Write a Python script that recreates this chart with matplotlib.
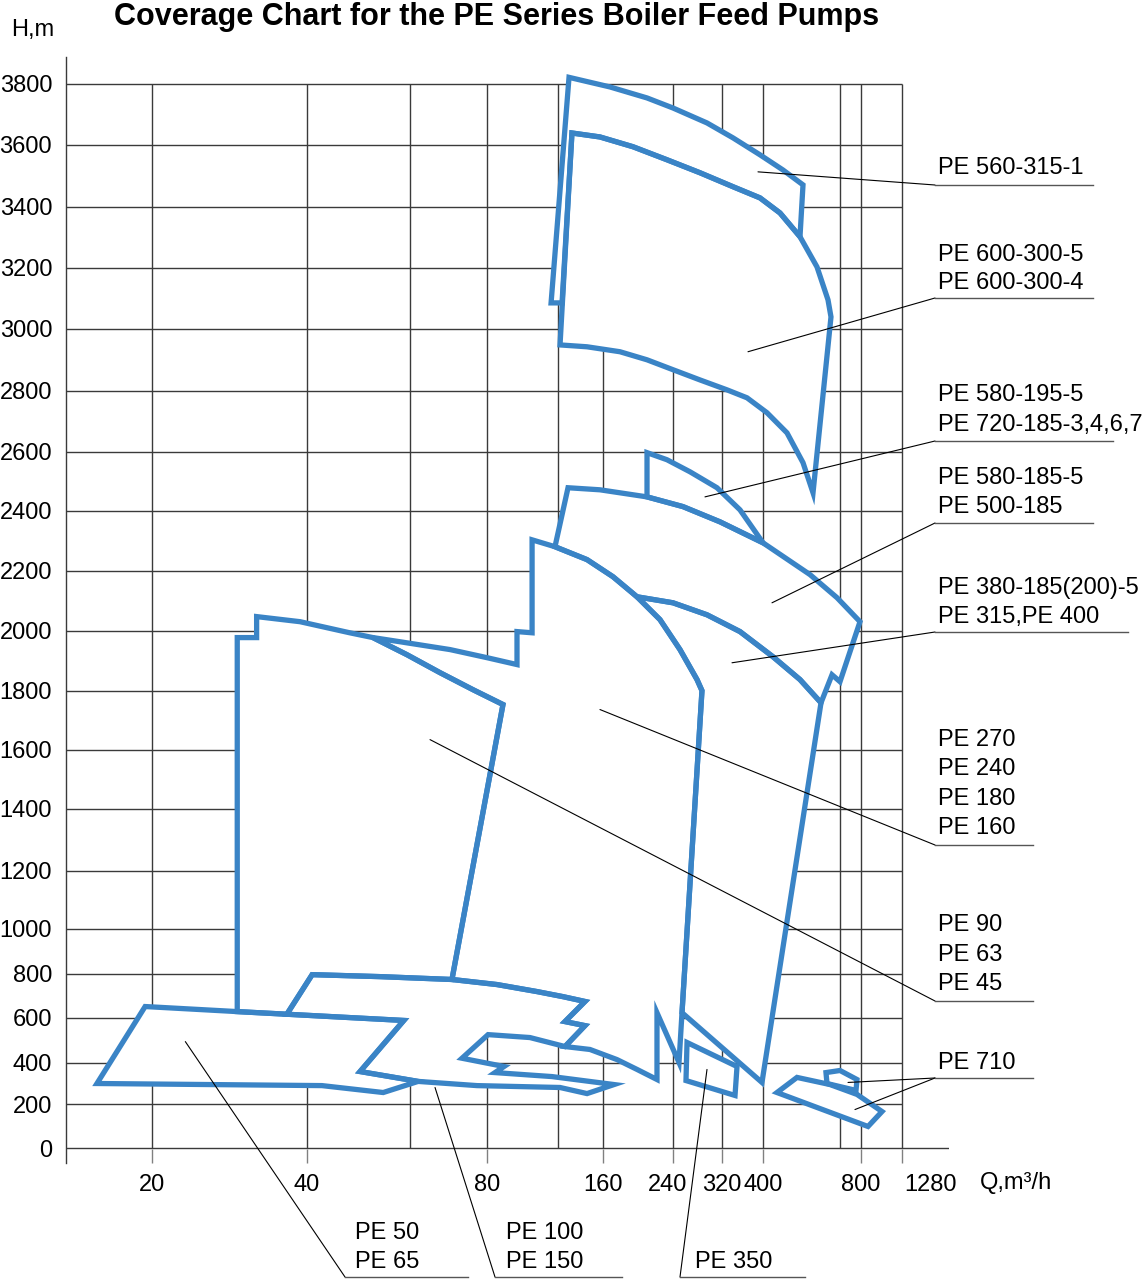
import numpy as np
import matplotlib
matplotlib.use("Agg")
import matplotlib.pyplot as plt
from matplotlib.patches import Polygon
from matplotlib.lines import Line2D
from matplotlib.transforms import ScaledTranslation

plt.rcParams['font.family'] = ['Liberation Sans', 'DejaVu Sans']

# axis ticks (Q in m3/h, H in m)
x_labels = [20, 40, 80, 160, 240, 320, 400, 800, 1280]
x_grid = [20, 40, 60, 80, 120, 160, 240, 320, 400, 640, 800, 1280]
y_ticks = [0, 200, 400, 600, 800, 1000, 1200, 1400, 1600, 1800, 2000, 2200,
           2400, 2600, 2800, 3000, 3200, 3400, 3600, 3800]

# pump coverage outlines, (Q, H) points
pe560_edge = [(123.6, 3085), (116.1, 3085), (129.8, 3820), (168, 3790), (210.3, 3754),
              (240, 3721), (295.5, 3672), (341.5, 3623), (394.1, 3568), (462.3, 3519),
              (524.7, 3471), (515.3, 3302)]
pe600_top = [(132.4, 3639), (157.3, 3626), (194.3, 3594), (233.1, 3552), (284.1, 3510),
             (341.5, 3465), (394.1, 3429), (453, 3380), (515.3, 3302), (568.3, 3203),
             (602.6, 3095), (611.9, 3039)]
pe600_low = [(555.9, 2461), (524.7, 2563), (474.8, 2662), (412.5, 2728), (368.8, 2777),
             (329.8, 2803), (284.1, 2835), (240, 2868), (210.3, 2900), (179.4, 2926),
             (145.8, 2942), (121.8, 2948)]
pe580_195_top = [(210.3, 2597), (233.1, 2573), (267.8, 2532), (311.8, 2478),
                 (355.1, 2403), (400, 2293)]
pe580_185_top = [(128.9, 2478), (157.3, 2471), (210.3, 2447), (256.3, 2414), (316.7, 2363),
                 (400, 2293), (546.5, 2187), (630.7, 2110), (792.4, 2030)]
pe580_185_right = [(640, 1830), (615.1, 1853), (580.8, 1759)]
pe380_top = [(198.9, 2113), (240, 2093), (295.5, 2053), (355.1, 1997), (431.2, 1913),
             (515.3, 1837), (580.8, 1759)]
pe380_low = [(398, 305), (254.7, 622)]
pe270_top = [(105.4, 2303), (118.3, 2280), (145.8, 2237), (171.4, 2180), (198.9, 2113),
             (225.1, 2037), (251.4, 1937), (279.2, 1837), (287.3, 1800)]
pe270_right = [(254.7, 622), (249.8, 400), (221.7, 622), (221.7, 319)]
pe270_bottom = [(198.9, 367), (176, 413), (148.4, 458), (126.2, 471)]
pe270_notch = [(58.1, 1963), (70.4, 1937), (80, 1910), (96.9, 1887), (96.9, 1997), (105.4, 1993)]
pe90_top = [(31, 1977), (33.5, 1977), (33.5, 2047), (39.1, 2030), (48.3, 1993), (52.8, 1977),
            (59.4, 1920), (67.8, 1860), (76.4, 1803), (89, 1753)]
b_top = [(41, 795), (54.2, 786), (70.9, 773), (85.6, 750), (108.2, 718), (124.4, 695), (144, 673)]
b_notch = [(126.2, 582), (144, 564), (126.2, 471)]
b_inner = [(104.2, 511), (80.6, 524), (73.5, 419), (89.6, 381), (84.5, 352), (116.6, 333),
           (172.6, 295), (145.8, 252), (121.8, 281), (77.4, 290), (62.1, 310), (50.3, 357),
           (58.8, 587)]
pe50 = [(13.6, 300), (19.2, 650), (31, 627), (37.4, 615), (58.8, 587), (50.3, 357),
        (62.1, 310), (54.8, 257), (42.9, 290)]
pe350 = [(262.9, 489), (349.3, 381), (345.4, 243), (261.2, 314)]
pe710_big = [(443.6, 257), (506, 329), (608.9, 295), (769.5, 248), (1046, 168), (882, 100)]
pe710_small = [(599.5, 300), (596.3, 352), (640, 362), (769.5, 319), (762, 267)]

# labels on the right and their anchor points
right_text = [["PE 560-315-1"],
              ["PE 600-300-5", "PE 600-300-4"],
              ["PE 580-195-5", "PE 720-185-3,4,6,7"],
              ["PE 580-185-5", "PE 500-185"],
              ["PE 380-185(200)-5", "PE 315,PE 400"],
              ["PE 270", "PE 240", "PE 180", "PE 160"],
              ["PE 90", "PE 63", "PE 45"],
              ["PE 710"]]
right_anchor = [[(390.2, 3513)], [(370.7, 2926)], [(292.2, 2447)], [(428, 2093)],
                [(339.5, 1893)], [(157.3, 1736)], [(65.2, 1634)], [(701, 305), (754, 177)]]
bottom_text = [["PE 50", "PE 65"], ["PE 100", "PE 150"], ["PE 350"]]
bottom_anchor = [(24.3, 493), (66.5, 281), (295.5, 367)]

# piecewise axis scales of the original drawing
Q_KNOT = [5, 10, 20, 40, 60, 80, 120, 160, 240, 320, 400, 640, 800, 1280, 1700, 3000]
Q_PIX = [23, 66, 152, 307, 410, 487, 558, 603, 673, 722, 763, 840, 861, 902, 949, 1100]
H_KNOT = [-1000] + y_ticks + [5000]
H_PIX = -np.array([1376, 1149, 1105, 1063, 1018, 974, 929, 871, 809, 750, 691, 631, 571,
                   511, 452, 391, 329, 268, 207, 145, 84, -310], dtype=float)

BLUE = '#3a84c6'
GRID = '#3a3a3a'
FS = 17

fig = plt.figure(figsize=(11.44, 12.8), dpi=100)
ax = fig.add_axes([66 / 1144, 117 / 1280, 883 / 1144, 1106 / 1280])
ax.set_xscale('function', functions=(lambda q: np.interp(q, Q_KNOT, Q_PIX),
                                     lambda p: np.interp(p, Q_PIX, Q_KNOT)))
ax.set_yscale('function', functions=(lambda h: np.interp(h, H_KNOT, H_PIX),
                                     lambda p: np.interp(p, H_PIX, H_KNOT)))
ax.set_xlim(10, 1700)
ax.set_ylim(-64, 3882)

# grid
ax.vlines(x_grid, 0, 3800, colors=GRID, lw=1.0, zorder=1)
ax.hlines(y_ticks[1:], 10, 1280, colors=GRID, lw=1.0, zorder=1)
ax.hlines(0, 10, 1700, colors=GRID, lw=1.0, zorder=1)

for s in ['top', 'right', 'bottom']:
    ax.spines[s].set_visible(False)
ax.spines['left'].set_color(GRID)
ax.spines['left'].set_linewidth(1.0)

ax.set_xticks(x_labels)
ax.set_xticklabels([str(v) for v in x_labels])
ax.set_yticks(y_ticks)
ax.set_yticklabels([str(v) for v in y_ticks])
ax.tick_params(axis='x', direction='in', length=10, width=1, color='#808080', pad=8,
               labelsize=FS)
ax.tick_params(axis='y', length=0, pad=10, labelsize=FS)
for lab in ax.get_xticklabels():
    if lab.get_text() == '1280':
        lab.set_transform(lab.get_transform() + ScaledTranslation(0.29, 0, fig.dpi_scale_trans))
    if lab.get_text() == '240':
        lab.set_transform(lab.get_transform() + ScaledTranslation(-0.05, 0, fig.dpi_scale_trans))

# build the region polygons from the shared outlines
shapes = [
    pe50,
    [(37.4, 615)] + b_top + b_notch + b_inner,
    [(31, 627)] + pe90_top + b_top[2::-1] + [(37.4, 615)],
    pe270_top + pe270_right + pe270_bottom + b_notch[1::-1] + b_top[:1:-1]
    + pe90_top[:4:-1] + pe270_notch,
    pe380_top + pe380_low + [pe270_top[-1]] + pe270_top[7:4:-1],
    pe580_185_top + pe580_185_right + pe380_top[-2::-1] + pe270_top[3:0:-1],
    pe580_195_top + pe580_185_top[4:1:-1],
    pe600_top + pe600_low,
    pe560_edge + pe600_top[7::-1],
    pe350,
    pe710_big,
    pe710_small,
]
for pts in shapes:
    ax.add_patch(Polygon(pts, closed=True, fc='white', ec='none', zorder=2))
for pts in shapes:
    ax.add_patch(Polygon(pts, closed=True, fill=False, ec=BLUE, lw=3.8,
                         joinstyle='miter', zorder=3))

# right side labels with leader lines
line_y = [[168], [255, 283], [395, 425], [478, 507], [588, 617],
          [740, 769, 799, 828], [925, 955, 984], [1063]]
under_y = [185, 298, 441, 523, 632, 845, 1001, 1078]
under_end = [1093, 1093, 1113, 1093, 1128, 1033, 1033, 1033]
for txt, ys, uy, ue, anchors in zip(right_text, line_y, under_y, under_end, right_anchor):
    for t, y in zip(txt, ys):
        fig.text(938 / 1144, 1 - y / 1280, t, fontsize=FS, va='center', ha='left')
    fig.add_artist(Line2D([935 / 1144, ue / 1144], [1 - uy / 1280] * 2,
                          transform=fig.transFigure, color='#555555', lw=1.0))
    for a in anchors:
        ax.annotate('', xy=a, xycoords='data', xytext=(935, 1280 - uy),
                    textcoords='figure pixels', annotation_clip=False,
                    arrowprops=dict(arrowstyle='-', color='black', lw=0.8,
                                    shrinkA=0, shrinkB=0), zorder=5)

# bottom labels
bx = [355, 506, 695]
by = [[1233, 1262], [1233, 1262], [1262]]
bu = [(345, 468), (495, 622), (680, 805)]
for txt, x, ys, (u0, u1), a in zip(bottom_text, bx, by, bu, bottom_anchor):
    for t, y in zip(txt, ys):
        fig.text(x / 1144, 1 - y / 1280, t, fontsize=FS, va='center', ha='left')
    fig.add_artist(Line2D([u0 / 1144, u1 / 1144], [1 - 1277 / 1280] * 2,
                          transform=fig.transFigure, color='#555555', lw=1.0))
    ax.annotate('', xy=a, xycoords='data', xytext=(u0, 1280 - 1277),
                textcoords='figure pixels', annotation_clip=False,
                arrowprops=dict(arrowstyle='-', color='black', lw=0.8,
                                shrinkA=0, shrinkB=0), zorder=5)

fig.text(497 / 1144, 1 - 17 / 1280, 'Coverage Chart for the PE Series Boiler Feed Pumps',
         fontsize=22, fontweight='bold', ha='center', va='center')
fig.text(33 / 1144, 1 - 30 / 1280, 'H,m', fontsize=FS, ha='center', va='center')
fig.text(1016 / 1144, 1 - 1183 / 1280, 'Q,m³/h', fontsize=FS, ha='center', va='center')

fig.savefig('out.png', dpi=100)
